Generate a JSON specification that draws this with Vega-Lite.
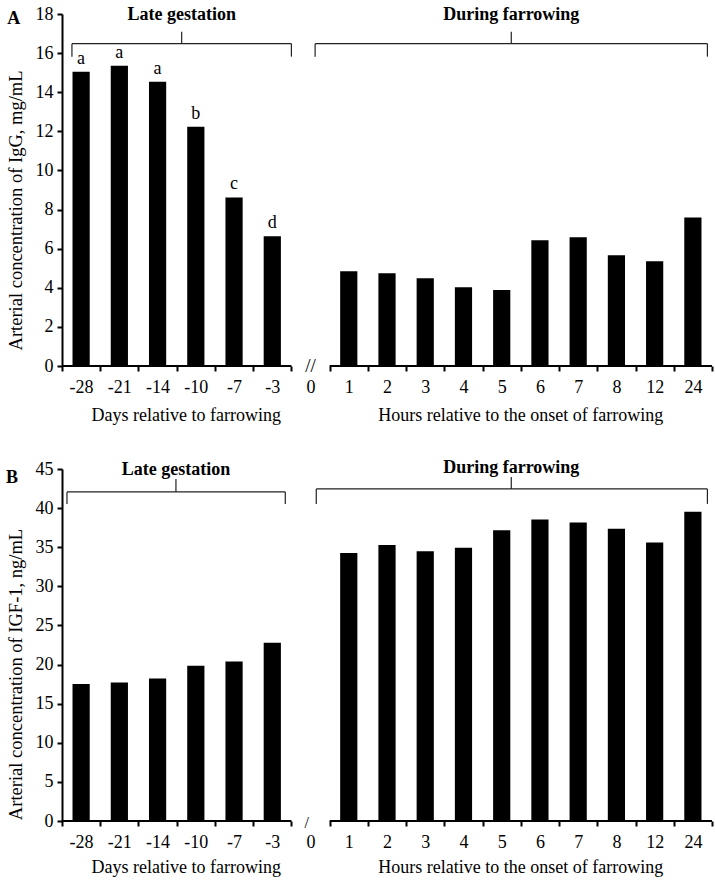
{
  "$schema": "https://vega.github.io/schema/vega-lite/v6.json",
  "padding": 5,
  "spacing": 34,
  "config": {
    "font": "Liberation Serif",
    "view": {"stroke": null},
    "axis": {
      "labelFont": "Liberation Serif", "titleFont": "Liberation Serif",
      "labelFontSize": 18, "titleFontSize": 18.5, "titleFontWeight": "normal",
      "labelColor": "black", "titleColor": "black",
      "domainColor": "black", "tickColor": "black",
      "grid": false, "tickSize": 5, "tickWidth": 2, "domainWidth": 2
    },
    "text": {"font": "Liberation Serif", "fontSize": 18, "color": "black"}
  },
  "datasets": {
    "igg": [
      {"cat": "-28", "value": 15.05, "letter": "a"},
      {"cat": "-21", "value": 15.36, "letter": "a"},
      {"cat": "-14", "value": 14.54, "letter": "a"},
      {"cat": "-10", "value": 12.24, "letter": "b"},
      {"cat": "-7", "value": 8.62, "letter": "c"},
      {"cat": "-3", "value": 6.63, "letter": "d"},
      {"cat": "1", "value": 4.85},
      {"cat": "2", "value": 4.74},
      {"cat": "3", "value": 4.49},
      {"cat": "4", "value": 4.03},
      {"cat": "5", "value": 3.88},
      {"cat": "6", "value": 6.43},
      {"cat": "7", "value": 6.58},
      {"cat": "8", "value": 5.66},
      {"cat": "12", "value": 5.36},
      {"cat": "24", "value": 7.6}
    ],
    "igf": [
      {"cat": "-28", "value": 17.5},
      {"cat": "-21", "value": 17.72},
      {"cat": "-14", "value": 18.23},
      {"cat": "-10", "value": 19.85},
      {"cat": "-7", "value": 20.4},
      {"cat": "-3", "value": 22.8},
      {"cat": "1", "value": 34.25},
      {"cat": "2", "value": 35.27},
      {"cat": "3", "value": 34.5},
      {"cat": "4", "value": 34.93},
      {"cat": "5", "value": 37.18},
      {"cat": "6", "value": 38.54},
      {"cat": "7", "value": 38.15},
      {"cat": "8", "value": 37.35},
      {"cat": "12", "value": 35.6},
      {"cat": "24", "value": 39.53}
    ],
    "bracketsA": [
      {"label": "Late gestation", "x0": 0.26, "x1": 6.0, "xm": 3.13, "yh": 16.48, "yend": 15.82, "ypeak": 17.09, "ytext": 17.95},
      {"label": "During farrowing", "x0": 6.62, "x1": 16.88, "xm": 11.75, "yh": 16.48, "yend": 15.82, "ypeak": 17.09, "ytext": 17.95}
    ],
    "bracketsB": [
      {"label": "Late gestation", "x0": 0.13, "x1": 5.84, "xm": 2.98, "yh": 42.07, "yend": 40.54, "ypeak": 43.73, "ytext": 44.87},
      {"label": "During farrowing", "x0": 6.65, "x1": 16.88, "xm": 11.75, "yh": 42.45, "yend": 40.54, "ypeak": 43.98, "ytext": 45.1}
    ],
    "segments": [{"s0": 0, "s1": 6}, {"s0": 7, "s1": 17}],
    "subtitles": [
      {"title": "Days relative to farrowing", "xc": 3.25},
      {"title": "Hours relative to the onset of farrowing", "xc": 12}
    ],
    "panelA": [{"tag": "A", "px": -1.26, "py": 17.76, "brk": "//", "bx": 6.5}],
    "panelB": [{"tag": "B", "px": -1.31, "py": 43.86, "brk": "/", "bx": 6.4}]
  },
  "vconcat": [
    {
      "width": 650, "height": 352,
      "resolve": {"scale": {"x": "independent"}},
      "encoding": {
        "y": {"type": "quantitative", "scale": {"domain": [0, 18], "nice": false},
          "axis": {"title": "Arterial concentration of IgG, mg/mL", "values": [0,2,4,6,8,10,12,14,16,18], "labelOverlap": false, "labelPadding": 4, "titlePadding": 10, "titleY": 196}}
      },
      "layer": [
        {
          "data": {"name": "igg"},
          "layer": [
            {
              "mark": {"type": "bar", "color": "black", "width": {"band": 0.45}},
              "encoding": {
                "x": {"field": "cat", "type": "ordinal", "sort": null,
                  "scale": {"domain": ["-28","-21","-14","-10","-7","-3","0","1","2","3","4","5","6","7","8","12","24"], "paddingInner": 0, "paddingOuter": 0},
                  "axis": {"title": null, "labelAngle": 0, "domain": false, "tickBand": "extent", "labelPadding": 7}},
                "y": {"field": "value"}
              }
            },
            {
              "transform": [{"filter": "datum.letter"}],
              "mark": {"type": "text", "baseline": "bottom", "dy": -4},
              "encoding": {
                "x": {"field": "cat", "type": "ordinal", "sort": null},
                "y": {"field": "value"},
                "text": {"field": "letter"}
              }
            }
          ]
        },
        {
          "layer": [
            {
              "data": {"name": "segments"},
              "mark": {"type": "rule", "color": "black", "strokeWidth": 2},
              "encoding": {
                "x": {"field": "s0", "type": "quantitative", "scale": {"domain": [0, 17], "nice": false, "zero": false}, "axis": null},
                "x2": {"field": "s1"},
                "y": {"datum": 0}
              }
            },
            {
              "data": {"name": "subtitles"},
              "mark": {"type": "text", "baseline": "middle", "dy": 50},
              "encoding": {
                "x": {"field": "xc", "type": "quantitative", "axis": null},
                "y": {"datum": 0},
                "text": {"field": "title"}
              }
            },
            {
              "data": {"name": "bracketsA"},
              "layer": [
                {"mark": {"type": "rule", "color": "#222", "strokeWidth": 1.2},
                 "encoding": {"x": {"field": "x0", "type": "quantitative", "axis": null}, "x2": {"field": "x1"},
                   "y": {"field": "yh"}}},
                {"mark": {"type": "rule", "color": "#222", "strokeWidth": 1.2},
                 "encoding": {"x": {"field": "x0", "type": "quantitative", "axis": null},
                   "y": {"field": "yh"}, "y2": {"field": "yend"}}},
                {"mark": {"type": "rule", "color": "#222", "strokeWidth": 1.2},
                 "encoding": {"x": {"field": "x1", "type": "quantitative", "axis": null},
                   "y": {"field": "yh"}, "y2": {"field": "yend"}}},
                {"mark": {"type": "rule", "color": "#222", "strokeWidth": 1.2},
                 "encoding": {"x": {"field": "xm", "type": "quantitative", "axis": null},
                   "y": {"field": "yh"}, "y2": {"field": "ypeak"}}},
                {"mark": {"type": "text", "fontWeight": "bold", "baseline": "middle"},
                 "encoding": {"x": {"field": "xm", "type": "quantitative", "axis": null},
                   "y": {"field": "ytext"},
                   "text": {"field": "label"}}}
              ]
            },
            {
              "data": {"name": "panelA"},
              "layer": [
                {"mark": {"type": "text", "fontWeight": "bold", "baseline": "middle"},
                 "encoding": {"x": {"field": "px", "type": "quantitative", "axis": null},
                   "y": {"field": "py"},
                   "text": {"field": "tag"}}},
                {"mark": {"type": "text", "baseline": "middle", "fontSize": 19},
                 "encoding": {"x": {"field": "bx", "type": "quantitative", "axis": null},
                   "y": {"datum": 0},
                   "text": {"field": "brk"}}}
              ]
            }
          ]
        }
      ]
    },
    {
      "width": 650, "height": 352,
      "resolve": {"scale": {"x": "independent"}},
      "encoding": {
        "y": {"type": "quantitative", "scale": {"domain": [0, 45], "nice": false},
          "axis": {"title": "Arterial concentration of IGF-1, ng/mL", "values": [0,5,10,15,20,25,30,35,40,45], "labelOverlap": false, "labelPadding": 4, "titlePadding": 10, "titleY": 205}}
      },
      "layer": [
        {
          "data": {"name": "igf"},
          "mark": {"type": "bar", "color": "black", "width": {"band": 0.45}},
          "encoding": {
            "x": {"field": "cat", "type": "ordinal", "sort": null,
              "scale": {"domain": ["-28","-21","-14","-10","-7","-3","0","1","2","3","4","5","6","7","8","12","24"], "paddingInner": 0, "paddingOuter": 0},
              "axis": {"title": null, "labelAngle": 0, "domain": false, "tickBand": "extent", "labelPadding": 7}},
            "y": {"field": "value"}
          }
        },
        {
          "layer": [
            {
              "data": {"name": "segments"},
              "mark": {"type": "rule", "color": "black", "strokeWidth": 2},
              "encoding": {
                "x": {"field": "s0", "type": "quantitative", "scale": {"domain": [0, 17], "nice": false, "zero": false}, "axis": null},
                "x2": {"field": "s1"},
                "y": {"datum": 0}
              }
            },
            {
              "data": {"name": "subtitles"},
              "mark": {"type": "text", "baseline": "middle", "dy": 47},
              "encoding": {
                "x": {"field": "xc", "type": "quantitative", "axis": null},
                "y": {"datum": 0},
                "text": {"field": "title"}
              }
            },
            {
              "data": {"name": "bracketsB"},
              "layer": [
                {"mark": {"type": "rule", "color": "#222", "strokeWidth": 1.2},
                 "encoding": {"x": {"field": "x0", "type": "quantitative", "axis": null}, "x2": {"field": "x1"},
                   "y": {"field": "yh"}}},
                {"mark": {"type": "rule", "color": "#222", "strokeWidth": 1.2},
                 "encoding": {"x": {"field": "x0", "type": "quantitative", "axis": null},
                   "y": {"field": "yh"}, "y2": {"field": "yend"}}},
                {"mark": {"type": "rule", "color": "#222", "strokeWidth": 1.2},
                 "encoding": {"x": {"field": "x1", "type": "quantitative", "axis": null},
                   "y": {"field": "yh"}, "y2": {"field": "yend"}}},
                {"mark": {"type": "rule", "color": "#222", "strokeWidth": 1.2},
                 "encoding": {"x": {"field": "xm", "type": "quantitative", "axis": null},
                   "y": {"field": "yh"}, "y2": {"field": "ypeak"}}},
                {"mark": {"type": "text", "fontWeight": "bold", "baseline": "middle"},
                 "encoding": {"x": {"field": "xm", "type": "quantitative", "axis": null},
                   "y": {"field": "ytext"},
                   "text": {"field": "label"}}}
              ]
            },
            {
              "data": {"name": "panelB"},
              "layer": [
                {"mark": {"type": "text", "fontWeight": "bold", "baseline": "middle"},
                 "encoding": {"x": {"field": "px", "type": "quantitative", "axis": null},
                   "y": {"field": "py"},
                   "text": {"field": "tag"}}},
                {"mark": {"type": "text", "baseline": "middle", "dy": 2, "fontSize": 16},
                 "encoding": {"x": {"field": "bx", "type": "quantitative", "axis": null},
                   "y": {"datum": 0},
                   "text": {"field": "brk"}}}
              ]
            }
          ]
        }
      ]
    }
  ]
}
